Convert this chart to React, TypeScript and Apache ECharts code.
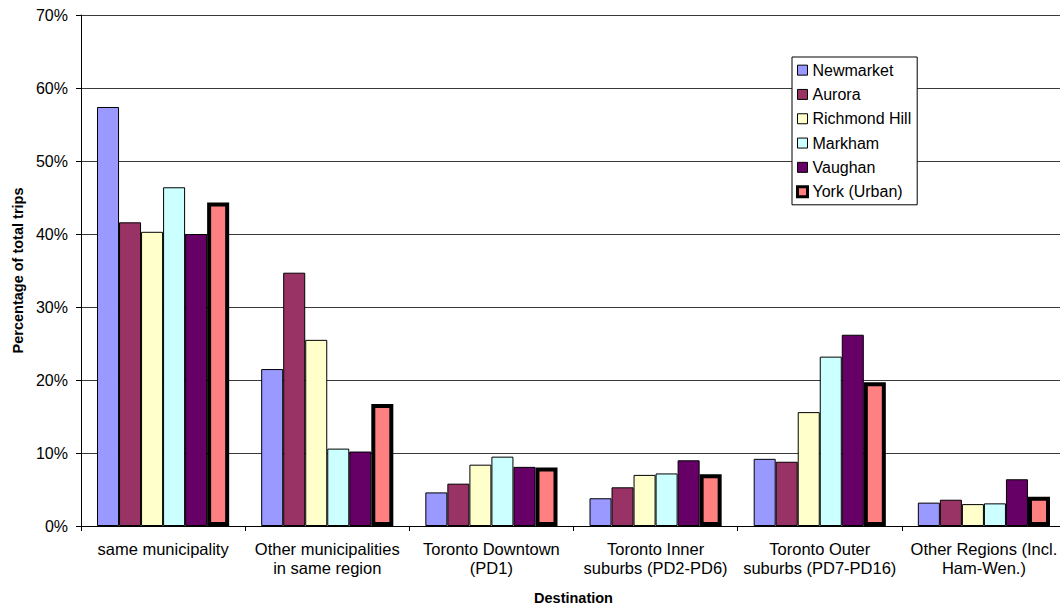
import React, { useEffect, useRef } from "react";
import * as echarts from "echarts";

// Destination categories (line breaks as printed under the axis)
const destinations = [
  "same municipality",
  "Other municipalities\nin same region",
  "Toronto Downtown\n(PD1)",
  "Toronto Inner\nsuburbs (PD2-PD6)",
  "Toronto Outer\nsuburbs (PD7-PD16)",
  "Other Regions (Incl.\nHam-Wen.)",
];

// Share of total trips, percent, per origin municipality
const newmarket = [57.4, 21.5, 4.6, 3.8, 9.2, 3.2];
const aurora = [41.6, 34.7, 5.8, 5.3, 8.8, 3.6];
const richmondHill = [40.3, 25.5, 8.4, 7.0, 15.6, 3.0];
const markham = [46.4, 10.6, 9.5, 7.2, 23.2, 3.1];
const vaughan = [40.0, 10.2, 8.1, 9.0, 26.2, 6.4];
const yorkUrban = [44.3, 16.7, 8.0, 7.1, 19.7, 4.0];

const yTicks = [0, 10, 20, 30, 40, 50, 60, 70];

const FONT = "'Liberation Sans', Arial, sans-serif";

const seriesDefs = [
  { name: "Newmarket", data: newmarket, color: "#9999FF", border: 1 },
  { name: "Aurora", data: aurora, color: "#993366", border: 1 },
  { name: "Richmond Hill", data: richmondHill, color: "#FFFFCC", border: 1 },
  { name: "Markham", data: markham, color: "#CCFFFF", border: 1 },
  { name: "Vaughan", data: vaughan, color: "#660066", border: 1 },
  { name: "York (Urban)", data: yorkUrban, color: "#FF8080", border: 4 },
];

export default function App() {
  const ref = useRef<HTMLDivElement>(null);

  useEffect(() => {
    if (!ref.current) return;
    const chart = echarts.init(ref.current, null, { renderer: "svg" });
    chart.setOption({
      animation: false,
      backgroundColor: "#ffffff",
      textStyle: { fontFamily: FONT },
      grid: { left: 81, right: 4, top: 15, bottom: 84, containLabel: false },
      legend: {
        orient: "vertical",
        left: 792,
        top: 57,
        padding: [1, 6, 1, 4],
        itemGap: 0,
        itemWidth: 10,
        itemHeight: 10,
        icon: "rect",
        backgroundColor: "#ffffff",
        borderColor: "#000000",
        borderWidth: 1,
        borderRadius: 0,
        textStyle: {
          fontFamily: FONT,
          fontSize: 16,
          color: "#000000",
          lineHeight: 24.3,
        },
        data: seriesDefs.map((s) => ({
          name: s.name,
          itemStyle: {
            color: s.color,
            borderColor: "#000000",
            borderWidth: s.border > 1 ? 3 : 1,
          },
        })),
      },
      xAxis: {
        type: "category",
        data: destinations,
        name: "Destination",
        nameLocation: "middle",
        nameGap: 64,
        nameTextStyle: {
          fontFamily: FONT,
          fontSize: 14.5,
          fontWeight: "bold",
          color: "#000000",
        },
        axisLine: { lineStyle: { color: "#000000", width: 1 } },
        axisTick: {
          show: true,
          alignWithLabel: false,
          length: 5,
          lineStyle: { color: "#000000" },
        },
        axisLabel: {
          interval: 0,
          margin: 13,
          fontFamily: FONT,
          fontSize: 16.5,
          lineHeight: 19.5,
          color: "#000000",
        },
        splitLine: { show: false },
      },
      yAxis: {
        type: "value",
        min: yTicks[0],
        max: yTicks[yTicks.length - 1],
        interval: 10,
        name: "Percentage of total trips",
        nameLocation: "middle",
        nameGap: 56,
        nameTextStyle: {
          fontFamily: FONT,
          fontSize: 14.5,
          fontWeight: "bold",
          color: "#000000",
        },
        axisLine: { show: true, lineStyle: { color: "#000000", width: 1 } },
        axisTick: { show: true, length: 5, lineStyle: { color: "#000000" } },
        axisLabel: {
          margin: 13,
          fontFamily: FONT,
          fontSize: 16,
          color: "#000000",
          formatter: "{value}%",
        },
        splitLine: { show: true, lineStyle: { color: "#3a3a3a", width: 1 } },
      },
      series: seriesDefs.map((s) => ({
        name: s.name,
        type: "bar",
        data: s.data,
        barGap: "0%",
        barCategoryGap: "19.5%",
        itemStyle: {
          color: s.color,
          borderColor: "#000000",
          borderWidth: s.border,
        },
      })),
    });
    return () => chart.dispose();
  }, []);

  return (
    <div
      style={{
        position: "absolute",
        left: 0,
        top: 0,
        width: 1060,
        height: 610,
        overflow: "hidden",
        background: "#ffffff",
      }}
    >
      <div ref={ref} style={{ width: 1070, height: 610 }} />
    </div>
  );
}
